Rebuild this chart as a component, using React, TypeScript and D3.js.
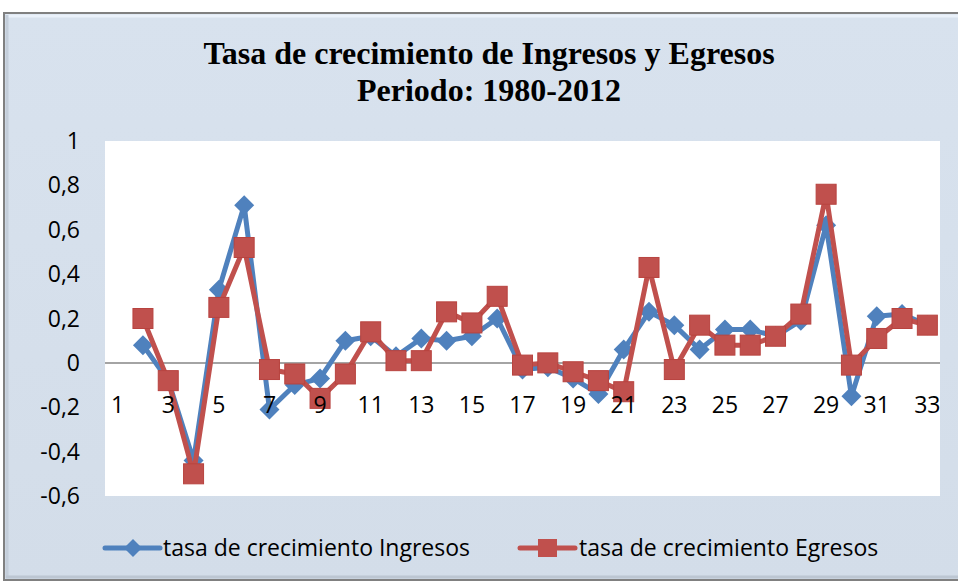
import React from 'react';
import * as d3 from 'd3';

// categories 1..33 (years 1980-2012)
const categories = d3.range(1, 34);
const xTickLabels = categories.filter(c => c % 2 === 1);
const yTicks = [1, 0.8, 0.6, 0.4, 0.2, 0, -0.2, -0.4, -0.6];

const ingresos = [null, 0.08, -0.08, -0.44, 0.33, 0.71, -0.21, -0.10, -0.07, 0.10, 0.12, 0.03, 0.11, 0.10, 0.12, 0.20,
  -0.03, -0.02, -0.07, -0.14, 0.06, 0.23, 0.17, 0.06, 0.15, 0.15, 0.12, 0.19, 0.62, -0.15, 0.21, 0.22, 0.17];
const egresos = [null, 0.20, -0.08, -0.50, 0.25, 0.52, -0.03, -0.05, -0.16, -0.05, 0.14, 0.01, 0.01, 0.23, 0.18, 0.30,
  -0.01, 0.00, -0.04, -0.08, -0.13, 0.43, -0.03, 0.17, 0.08, 0.08, 0.12, 0.22, 0.76, -0.01, 0.11, 0.20, 0.17];

const titleLines = ['Tasa de crecimiento de Ingresos y Egresos', 'Periodo: 1980-2012'];
const seriesNames = ['tasa de crecimiento Ingresos', 'tasa de crecimiento Egresos'];

const W = 958;
const H = 582;
const BLUE = '#4F81BD';
const RED = '#C0504D';
const FONT = "'Open Sans', 'Noto Sans', sans-serif";
const FS = 23;

export default function App() {
  const plot = { left: 105, right: 940, top: 141, bottom: 496 };

  const x = d3.scalePoint<number>()
    .domain(categories)
    .range([plot.left, plot.right])
    .padding(0.5);

  const y = d3.scaleLinear()
    .domain([-0.6, 1])
    .range([plot.bottom, plot.top]);

  const line = d3.line<number | null>()
    .defined(d => d != null)
    .x((d, i) => x(categories[i])!)
    .y(d => y(d as number));

  const fmt = (v: number) => d3.format('.1~f')(v).replace('.', ',').replace('−', '-');

  const diamond = (cx: number, cy: number, r: number) =>
    `M${cx},${cy - r}L${cx + r},${cy}L${cx},${cy + r}L${cx - r},${cy}Z`;

  return (
    <svg width={W} height={H} style={{ position: 'fixed', left: 0, top: 0 }}>
      <defs>
        <linearGradient id="bg" x1="0" y1="0" x2="0" y2="1">
          <stop offset="0" stopColor="#D8E2EE" />
          <stop offset="1" stopColor="#D3DDE9" />
        </linearGradient>
      </defs>
      <rect x={0} y={0} width={W} height={H} fill="#fff" />
      {/* chart frame */}
      <rect x={4} y={13} width={W + 10} height={567} fill="url(#bg)" stroke="#808080" strokeWidth={2} />
      <line x1={6} x2={W} y1={16} y2={16} stroke="#EAF1FA" strokeWidth={3} />
      <line x1={7} x2={7} y1={15} y2={578} stroke="#C4CEDA" strokeWidth={3} />
      <line x1={6} x2={W} y1={577} y2={577} stroke="#BCC6D2" strokeWidth={3} />

      {/* title */}
      {titleLines.map((t, i) => (
        <text key={t} x={489} y={64 + i * 37} textAnchor="middle"
          fontFamily="'Liberation Serif', 'Times New Roman', serif" fontWeight="bold" fontSize={32}
          fill="#000">{t}</text>
      ))}

      {/* plot area */}
      <rect x={plot.left} y={plot.top} width={plot.right - plot.left} height={plot.bottom - plot.top} fill="#fff" />

      {/* y tick labels */}
      {yTicks.map(t => (
        <text key={t} x={80} y={y(t)} dy="0.35em" textAnchor="end" fontFamily={FONT} fontSize={FS} fill="#000">
          {fmt(t)}
        </text>
      ))}

      {/* zero axis */}
      <line x1={plot.left} x2={plot.right} y1={y(0)} y2={y(0)} stroke="#868686" strokeWidth={1.5} />

      {/* Ingresos */}
      <path d={line(ingresos) || ''} fill="none" stroke={BLUE} strokeWidth={5} strokeLinejoin="round" />
      {ingresos.map((v, i) => v == null ? null : (
        <path key={'i' + i} d={diamond(x(categories[i])!, y(v), 10)} fill={BLUE} />
      ))}

      {/* Egresos */}
      <path d={line(egresos) || ''} fill="none" stroke={RED} strokeWidth={5} strokeLinejoin="round" />
      {egresos.map((v, i) => v == null ? null : (
        <rect key={'e' + i} x={x(categories[i])! - 10} y={y(v) - 10} width={20} height={20}
          fill={RED} stroke="#B8433F" strokeWidth={1} />
      ))}

      {/* x tick labels, drawn over the markers */}
      {xTickLabels.map(c => (
        <text key={c} x={x(c)} y={413} textAnchor="middle" fontFamily={FONT} fontSize={FS} fill="#000">{c}</text>
      ))}

      {/* legend */}
      <g>
        <line x1={105} x2={160} y1={548} y2={548} stroke={BLUE} strokeWidth={5} strokeLinecap="round" />
        <path d={diamond(133, 548, 9)} fill={BLUE} />
        <text x={163} y={548} dy="0.35em" fontFamily={FONT} fontSize={FS} fill="#000">{seriesNames[0]}</text>

        <line x1={520} x2={575} y1={548} y2={548} stroke={RED} strokeWidth={5} strokeLinecap="round" />
        <rect x={538} y={539} width={19} height={18} fill={RED} />
        <text x={579} y={548} dy="0.35em" fontFamily={FONT} fontSize={FS} fill="#000">{seriesNames[1]}</text>
      </g>
    </svg>
  );
}
